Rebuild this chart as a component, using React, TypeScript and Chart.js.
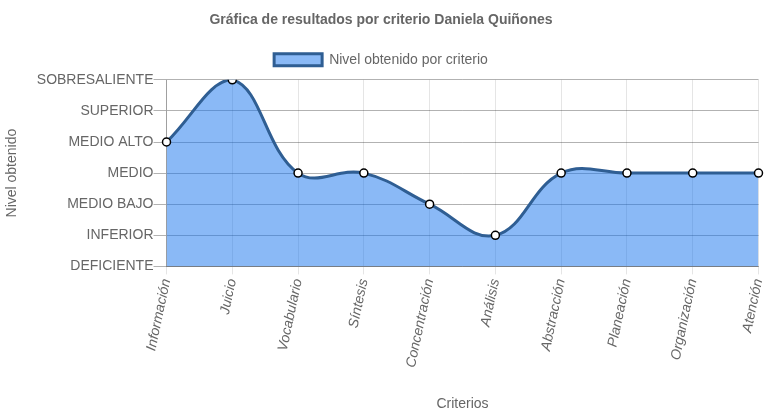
import React, { useEffect, useRef } from "react";
import { Chart, registerables } from "chart.js";

Chart.register(...registerables);

const categories = ["Información", "Juicio", "Vocabulario", "Síntesis", "Concentración", "Análisis", "Abstracción", "Planeación", "Organización", "Atención"];
const values = [4, 6, 3, 3, 2, 1, 3, 3, 3, 3];
const levelLabels = ["DEFICIENTE", "INFERIOR", "MEDIO BAJO", "MEDIO", "MEDIO ALTO", "SUPERIOR", "SOBRESALIENTE"];

export default function App() {
  const ref = useRef<HTMLCanvasElement>(null);
  useEffect(() => {
    document.body.style.margin = "0";
    const font = "Arial, 'Liberation Sans', Helvetica, sans-serif";
    Chart.defaults.font.family = font;
    Chart.defaults.color = "#666";
    const legendMargin = {
      id: "legendMargin",
      beforeInit(chart: any) {
        const orig = chart.legend.fit;
        chart.legend.fit = function () {
          orig.bind(chart.legend)();
          this.height += 3;
        };
      },
    };
    const chart = new Chart(ref.current!, {
      type: "line",
      data: {
        labels: categories,
        datasets: [
          {
            label: "Nivel obtenido por criterio",
            data: values,
            fill: true,
            backgroundColor: "rgba(21,115,237,0.5)",
            borderColor: "#2f5e93",
            borderWidth: 3,
            tension: 0.4,
            pointRadius: 4,
            pointBackgroundColor: "#fff",
            pointBorderColor: "#000",
            pointBorderWidth: 1.5,
          },
        ],
      },
      plugins: [legendMargin],
      options: {
        responsive: false,
        animation: false,
        layout: { padding: { right: 2, top: 2, left: 0, bottom: 0 } },
        plugins: {
          title: {
            display: true,
            text: "Gráfica de resultados por criterio Daniela Quiñones",
            font: { size: 14, weight: "bold" },
            color: "#666",
            padding: { top: 10, bottom: 14 },
          },
          legend: {
            labels: { boxWidth: 48, boxHeight: 12, font: { size: 14 }, color: "#666" },
          },
          tooltip: { enabled: false },
        },
        scales: {
          x: {
            title: { display: true, text: "Criterios", font: { size: 14 }, color: "#666", padding: { top: 24, bottom: 4 } },
            ticks: { font: { size: 14, style: "italic" }, color: "#666", maxRotation: 78, minRotation: 78 },
            grid: { color: "rgba(0,0,0,0.1)" },
            border: { color: "rgba(0,0,0,0.3)" },
            afterFit: (scale: any) => {
              scale.paddingRight = 0;
              scale.paddingLeft = 0;
            },
          },
          y: {
            min: 0,
            max: 6,
            title: { display: true, text: "Nivel obtenido", font: { size: 14 }, color: "#666", padding: { top: 4, bottom: 16 } },
            ticks: {
              stepSize: 1,
              padding: 0,
              font: { size: 14 },
              color: "#666",
              callback: (v: any) => levelLabels[v as number] ?? "",
            },
            grid: { color: "rgba(0,0,0,0.3)", tickLength: 13 },
            border: { color: "rgba(0,0,0,0.3)" },
          },
        },
      },
    });
    return () => chart.destroy();
  }, []);
  return (
    <div style={{ width: 764, height: 417 }}>
      <canvas ref={ref} width={764} height={417} />
    </div>
  );
}
